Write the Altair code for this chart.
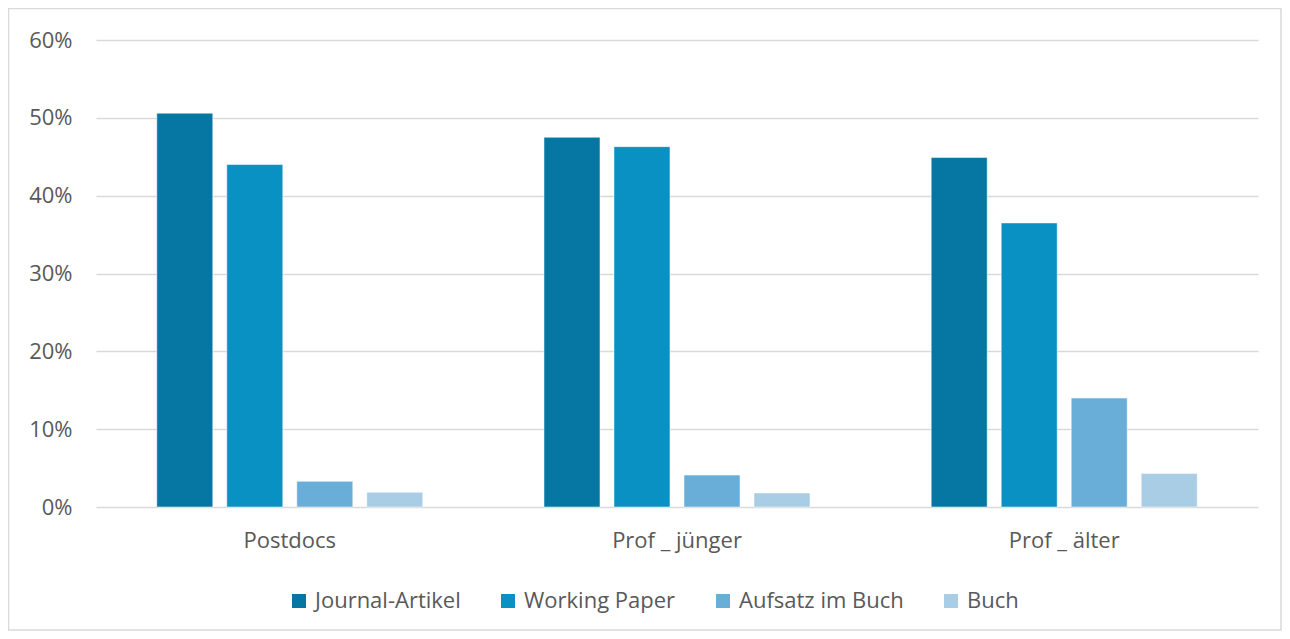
import altair as alt
import pandas as pd

categories = ["Postdocs", "Prof _ jünger", "Prof _ älter"]
series = ["Journal-Artikel", "Working Paper", "Aufsatz im Buch", "Buch"]
colors = ["#0677A3", "#0A91C4", "#69AED9", "#A9CDE5"]
values = {
    "Journal-Artikel": [0.506, 0.475, 0.449],
    "Working Paper": [0.440, 0.463, 0.365],
    "Aufsatz im Buch": [0.033, 0.041, 0.140],
    "Buch": [0.019, 0.018, 0.043],
}
y_ticks = [0, 0.1, 0.2, 0.3, 0.4, 0.5, 0.6]

rows = []
for s in series:
    for c, v in zip(categories, values[s]):
        rows.append({"Gruppe": c, "Typ": s, "Anteil": v})
df = pd.DataFrame(rows)

FONT = "Open Sans"
GRAY = "#595959"

bars = alt.Chart(df).mark_bar(stroke="#ffffff", strokeWidth=1, strokeOpacity=0.5).encode(
    x=alt.X("Gruppe:N", sort=categories,
            scale=alt.Scale(paddingInner=0.313, paddingOuter=0.157),
            axis=alt.Axis(title=None, labelAngle=0, domain=False, ticks=False,
                          labelPadding=23, labelFontSize=22, labelColor=GRAY,
                          labelFont=FONT)),
    xOffset=alt.XOffset("Typ:N", sort=series,
                        scale=alt.Scale(paddingInner=0.2, paddingOuter=0)),
    y=alt.Y("Anteil:Q", scale=alt.Scale(domain=[0, 0.6], nice=False),
            axis=alt.Axis(title=None, format=".0%", values=y_ticks, domain=False,
                          ticks=False, labelPadding=24, labelFontSize=22,
                          labelColor=GRAY, labelFont=FONT, gridColor="#d9d9d9",
                          gridWidth=1.5)),
    color=alt.Color("Typ:N", sort=series,
                    scale=alt.Scale(domain=series, range=colors),
                    legend=alt.Legend(title=None, orient="none", legendX=192, legendY=550,
                                      direction="horizontal", columns=4,
                                      symbolType="square", symbolSize=196,
                                      symbolStrokeWidth=0, labelOffset=5,
                                      columnPadding=36, labelFontSize=22,
                                      labelLimit=400,
                                      labelColor=GRAY, labelFont=FONT, padding=0)),
)

border = alt.Chart(pd.DataFrame({"a": [0]})).mark_rect(
    fill=None, stroke="#d9d9d9", strokeWidth=1.5, clip=False
).encode(
    x=alt.value(-87.5), x2=alt.value(1185), y=alt.value(-31.5), y2=alt.value(590)
)

chart = alt.layer(border, bars).properties(
    width=1162, height=467,
    autosize=alt.AutoSizeParams(type="none"),
    padding={"left": 88, "top": 32, "right": 24, "bottom": 124},
).configure(background="white").configure_view(stroke=None)

chart.save("out.html", embed_options={"renderer": "svg", "actions": False})
